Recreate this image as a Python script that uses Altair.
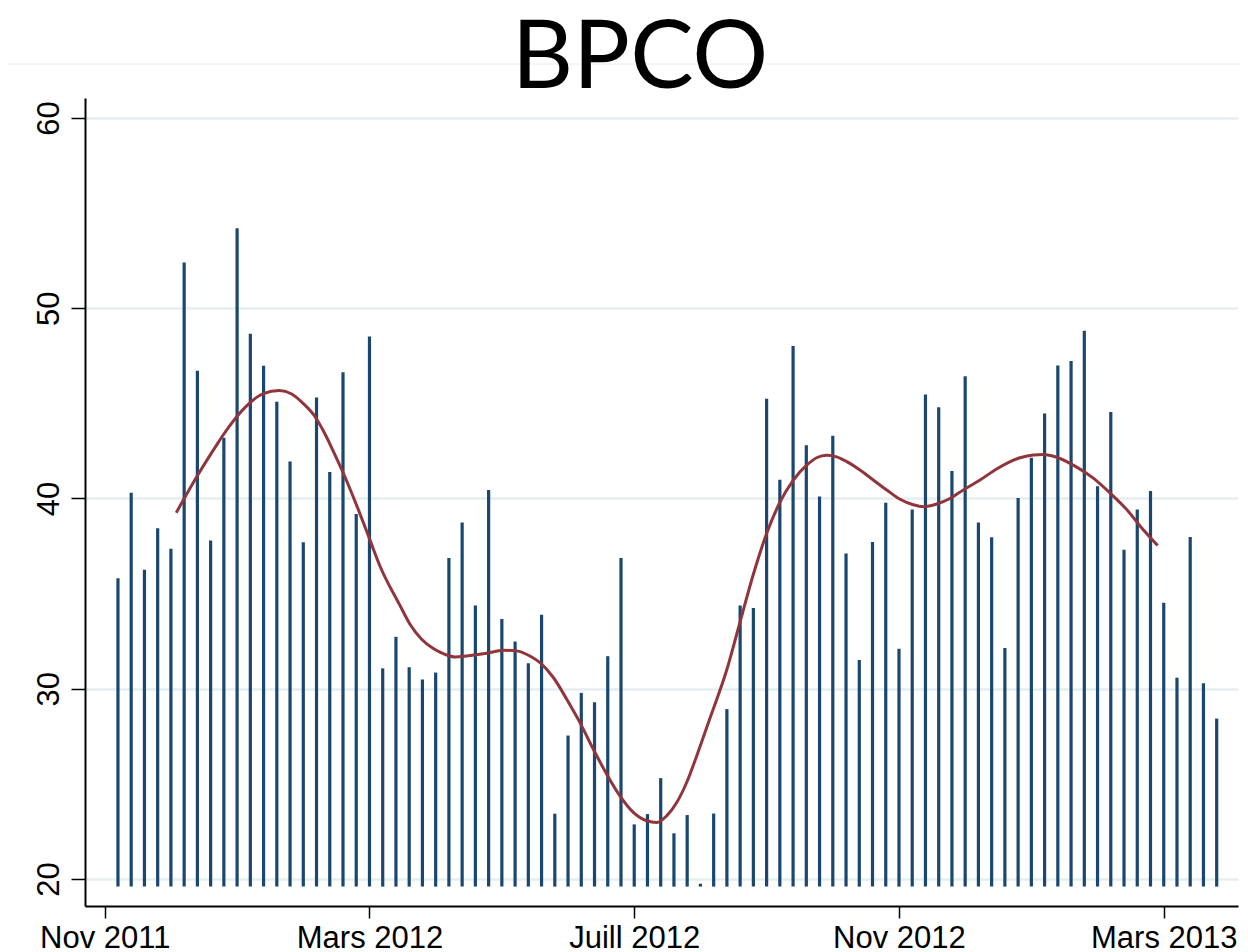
import altair as alt
import pandas as pd

TITRE = "BPCO"

semaines = list(range(1, 85))
valeurs = [35.81, 40.30, 36.26, 38.43, 37.36, 52.41, 46.72, 37.79, 43.19, 54.21,
           48.66, 46.97, 45.08, 41.94, 37.70, 45.31, 41.39, 46.63, 39.18, 48.52,
           31.07, 32.73, 31.13, 30.48, 30.85, 36.87, 38.74, 34.38, 40.45, 33.67,
           32.48, 31.34, 33.89, 23.43, 27.54, 29.78, 29.29, 31.71, 36.87, 22.87,
           23.41, 25.30, 22.40, 23.36, 19.75, 23.44, 28.93, 34.37, 34.25, 45.24,
           40.99, 48.02, 42.80, 40.10, 43.30, 37.11, 31.51, 37.71, 39.77, 32.10,
           39.42, 45.46, 44.80, 41.44, 46.43, 38.74, 37.96, 32.14, 40.02, 42.14,
           44.47, 46.99, 47.22, 48.82, 40.64, 44.54, 37.30, 39.42, 40.39, 34.52,
           30.58, 37.98, 30.29, 28.43]
BASE = 19.6

lisse_x = [5.40, 6.95, 8.46, 8.96, 10.72, 11.98, 13.19, 14.12, 15.00, 15.88,
           16.64, 17.27, 18.02, 19.03, 20.04, 20.79, 22.30, 23.06, 23.94, 24.82,
           25.70, 26.46, 27.34, 28.85, 30.11, 31.12, 32.12, 32.88, 33.89, 34.90,
           35.90, 36.91, 37.92, 38.92, 39.93, 40.94, 41.70, 42.45, 43.21, 43.96,
           44.72, 45.72, 46.98, 47.99, 49.00, 50.00, 51.01, 52.02, 53.03, 53.78,
           54.54, 55.29, 56.05, 57.05, 58.06, 59.07, 60.08, 61.08, 61.84, 62.85,
           63.85, 64.86, 66.12, 67.38, 69.14, 70.15, 70.91, 71.91, 73.43, 74.68,
           75.94, 77.20, 78.34, 79.54]
lisse_y = [39.25, 41.14, 42.82, 43.35, 44.87, 45.51, 45.67, 45.49, 44.99, 44.31,
           43.39, 42.48, 41.34, 39.64, 37.81, 36.45, 34.38, 33.39, 32.60, 32.11,
           31.81, 31.67, 31.72, 31.86, 32.02, 31.99, 31.72, 31.37, 30.59, 29.45,
           28.22, 26.82, 25.51, 24.37, 23.50, 23.06, 22.97, 23.32, 24.02, 25.07,
           26.47, 28.45, 30.97, 33.50, 36.02, 38.16, 39.81, 40.97, 41.75, 42.14,
           42.27, 42.19, 41.94, 41.50, 40.97, 40.45, 39.96, 39.67, 39.57, 39.71,
           40.00, 40.45, 40.97, 41.55, 42.14, 42.29, 42.31, 42.17, 41.65, 41.07,
           40.29, 39.42, 38.45, 37.53]

tick_pos = [0, 20, 40, 60, 80]
tick_labels = ["Nov 2011", "Mars 2012", "Juill 2012", "Nov 2012", "Mars 2013"]
y_ticks = [20, 30, 40, 50, 60]

df = pd.DataFrame({"semaine": semaines, "valeur": valeurs,
                   "base": [BASE] * len(semaines)})
dl = pd.DataFrame({"x": lisse_x, "y": lisse_y})
dt = pd.DataFrame({"t": [TITRE]})

expr = "''"
for p, l in reversed(list(zip(tick_pos, tick_labels))):
    expr = f"datum.value == {p} ? '{l}' : ({expr})"

xscale = alt.Scale(domain=[-1.49, 85.61], nice=False, zero=False)
yscale = alt.Scale(domain=[18.58, 61.05], nice=False, zero=False)

x_axis = alt.Axis(values=tick_pos, labelExpr=expr, title=None, grid=False,
                  domainColor="black", domainWidth=2, tickColor="black",
                  tickWidth=1.5, tickSize=12, labelFont="Liberation Sans",
                  labelFontSize=31, labelColor="black", labelPadding=5,
                  labelFlush=False, labelOverlap=False)
y_axis = alt.Axis(values=y_ticks, title=None, grid=True, gridColor="#e6eef0",
                  gridWidth=2.5, domainColor="black", domainWidth=2,
                  tickColor="black", tickWidth=1.5, tickSize=14,
                  labelFont="Liberation Sans", labelFontSize=31,
                  labelColor="black", labelAngle=270, labelAlign="center",
                  labelBaseline="bottom", labelPadding=6)

bars = alt.Chart(df).mark_rule(color="#1a476f", strokeWidth=3.2).encode(
    x=alt.X("semaine:Q", scale=xscale, axis=x_axis),
    y=alt.Y("valeur:Q", scale=yscale, axis=y_axis),
    y2="base:Q",
)

line = alt.Chart(dl).mark_line(color="#90353b", strokeWidth=3,
                               interpolate="monotone").encode(
    x=alt.X("x:Q", scale=xscale),
    y=alt.Y("y:Q", scale=yscale),
)

title = alt.Chart(dt).mark_text(font="Lato", fontSize=95, baseline="alphabetic",
                                align="center", color="black").encode(
    text="t:N", x=alt.value(555), y=alt.value(-10))

topline = alt.Chart(dt).mark_rule(color="#e3ecef", strokeWidth=1).encode(
    x=alt.value(-85), x2=alt.value(1170), y=alt.value(-34))

chart = alt.layer(topline, bars, line, title).properties(
    width=1153, height=808,
    padding={"left": 77, "top": 90, "right": 2, "bottom": 60},
    autosize="none",
).configure_view(stroke=None)

chart.save("out.html", embed_options={"renderer": "svg", "actions": False})
